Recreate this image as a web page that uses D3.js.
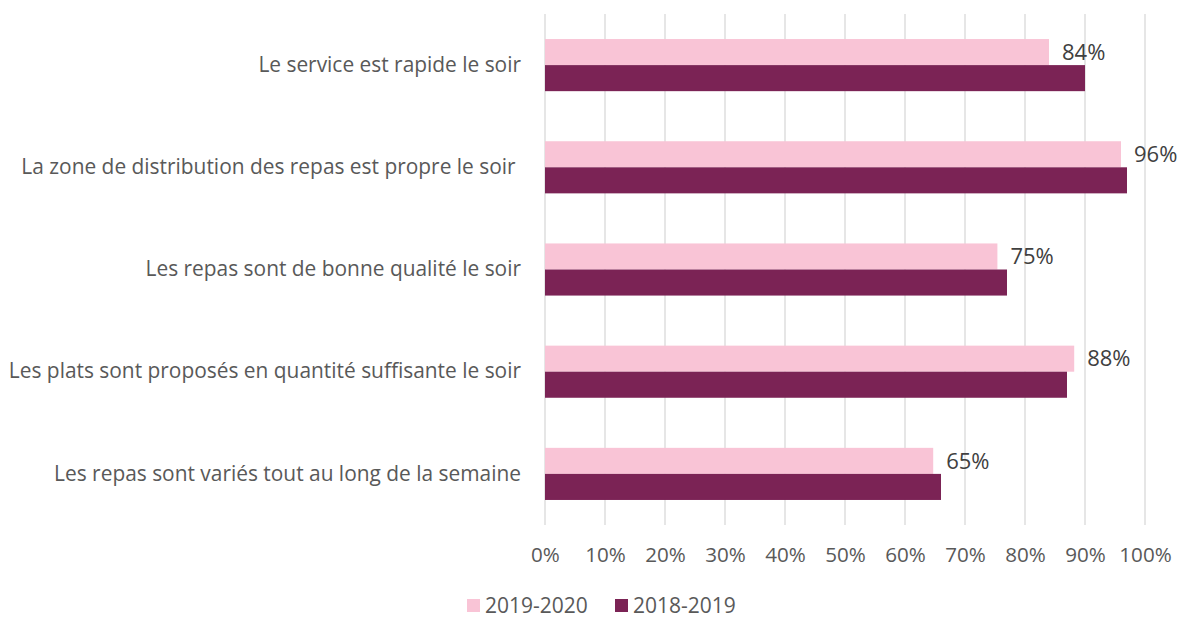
<!DOCTYPE html>
<html>
<head>
<meta charset="utf-8">
<script src="https://cdn.jsdelivr.net/npm/d3@7"></script>
<style>
  body { margin: 0; background: #fff; }
  svg { display: block; font-family: "Open Sans", sans-serif; }
</style>
</head>
<body>
<svg width="1182" height="617"></svg>
<script>
var categories = [
  "Le service est rapide le soir",
  "La zone de distribution des repas est propre le soir ",
  "Les repas sont de bonne qualité le soir",
  "Les plats sont proposés en quantité suffisante le soir",
  "Les repas sont variés tout au long de la semaine"
]
var series = ["2019-2020", "2018-2019"]
var values2020 = [84, 96, 75.4, 88.2, 64.7]
var values2019 = [90, 97, 77, 87, 66]
var ticks = [0, 10, 20, 30, 40, 50, 60, 70, 80, 90, 100]

var colors = { "2019-2020": "#f9c4d6", "2018-2019": "#7b2355" }

var svg = d3.select("svg"),
  margin = { top: 14, right: 37, bottom: 92, left: 545 },
  width = 1182 - margin.left - margin.right,
  height = 617 - margin.top - margin.bottom

var g = svg.append("g").attr("transform", "translate(" + margin.left + "," + margin.top + ")")

var data = categories.map(function (c, i) {
  return { cat: c, "2019-2020": values2020[i], "2018-2019": values2019[i] }
})

var x = d3.scaleLinear().domain([0, 100]).range([0, width])
var y = d3.scaleBand().domain(categories).range([0, height]).paddingInner(0.49).paddingOuter(0.245)
var ySub = d3.scaleBand().domain(series).range([0, y.bandwidth()])

// gridlines
g.append("g").selectAll("line").data(ticks).enter().append("line")
  .attr("x1", function (d) { return x(d) }).attr("x2", function (d) { return x(d) })
  .attr("y1", 0).attr("y2", height)
  .attr("stroke", "#d9d9d9").attr("stroke-width", 1.3)

// bars
var groups = g.append("g").selectAll("g").data(data).enter().append("g")
  .attr("transform", function (d) { return "translate(0," + y(d.cat) + ")" })

groups.selectAll("rect").data(function (d) {
  return series.map(function (s) { return { key: s, value: d[s] } })
}).enter().append("rect")
  .attr("x", x(0))
  .attr("y", function (d) { return ySub(d.key) })
  .attr("width", function (d) { return x(d.value) - x(0) })
  .attr("height", ySub.bandwidth())
  .attr("fill", function (d) { return colors[d.key] })

// data labels (2019-2020 only)
groups.append("text")
  .attr("x", function (d) { return x(d["2019-2020"]) + 13 })
  .attr("y", ySub("2019-2020") + ySub.bandwidth() / 2)
  .attr("dy", "0.35em")
  .attr("fill", "#404040")
  .style("font-size", "22px")
  .text(function (d) { return Math.round(d["2019-2020"]) + "%" })

// x axis labels
var xAxis = g.append("g").attr("transform", "translate(0," + height + ")")
  .call(d3.axisBottom(x).tickValues(ticks).tickSize(0).tickPadding(0).tickFormat(function (d) { return d + "%" }))
xAxis.select(".domain").remove()
xAxis.selectAll("text")
  .attr("y", 37)
  .attr("dy", 0)
  .attr("fill", "#595959")
  .style("font-family", "Open Sans, sans-serif")
  .style("font-size", "20.6px")

// category labels
var yAxis = g.append("g")
  .call(d3.axisLeft(y).tickSize(0).tickPadding(24))
yAxis.select(".domain").remove()
yAxis.selectAll("text")
  .attr("fill", "#595959")
  .style("white-space", "pre")
  .style("font-family", "Open Sans, sans-serif")
  .style("font-size", "20.9px")

// legend
var legend = svg.append("g").attr("transform", "translate(467,599)")
var item = legend.selectAll("g").data(series).enter().append("g")
  .attr("transform", function (d, i) { return "translate(" + i * 148 + ",0)" })
item.append("rect").attr("width", 13).attr("height", 13)
  .attr("fill", function (d) { return colors[d] })
item.append("text").attr("x", 18).attr("y", 13.5)
  .attr("fill", "#595959")
  .style("font-size", "21px")
  .text(function (d) { return d })
</script>
</body>
</html>
